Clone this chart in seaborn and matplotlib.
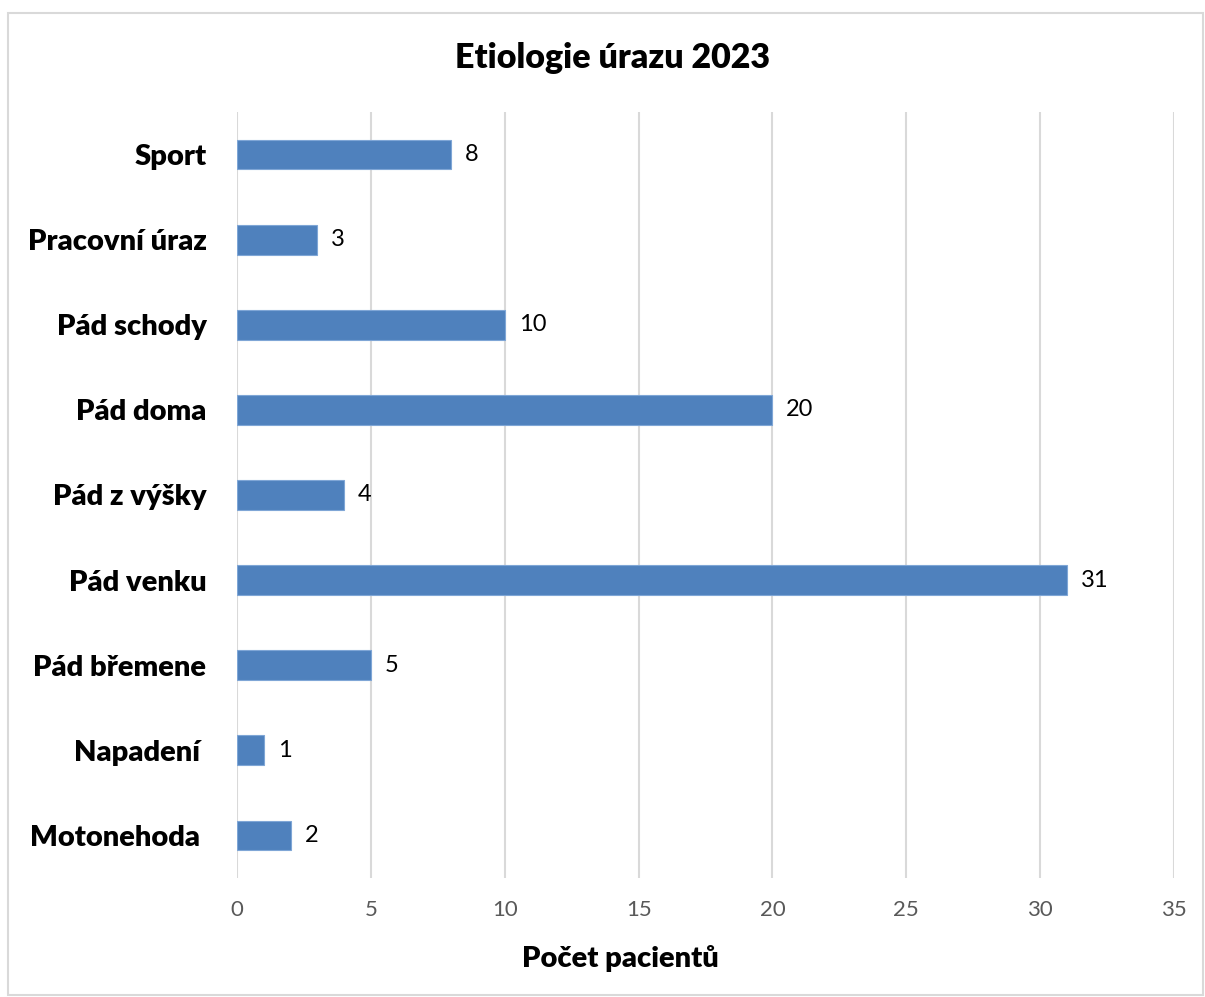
import matplotlib
matplotlib.use("Agg")
import matplotlib.pyplot as plt
import seaborn as sns
import pandas as pd

kategorie = ["Sport", "Pracovní úraz", "Pád schody", "Pád doma", "Pád z výšky",
             "Pád venku", "Pád břemene", "Napadení ", "Motonehoda "]
pocty = [8, 3, 10, 20, 4, 31, 5, 1, 2]
x_ticks = [0, 5, 10, 15, 20, 25, 30, 35]

df = pd.DataFrame({"Etiologie": kategorie, "Pocet": pocty})

sns.set_style("white")
plt.rcParams["font.family"] = ["Lato", "DejaVu Sans"]
plt.rcParams["text.color"] = "black"

fig = plt.figure(figsize=(12.05, 9.97), dpi=100)
ax = fig.add_axes([0.1967, 0.1194, 0.7776, 0.7683])

sns.barplot(data=df, y="Etiologie", x="Pocet", orient="h", color="#4F81BD",
            width=0.35, edgecolor="#7FA6D6", linewidth=0.8, saturation=1, ax=ax)

ax.set_xlim(0, 35)
ax.set_ylim(len(kategorie) - 0.5, -0.5)
ax.set_xticks(x_ticks)
ax.set_xticklabels([str(t) for t in x_ticks], fontsize=16, color="#595959")
ax.tick_params(axis="x", length=0, pad=16)
ax.tick_params(axis="y", length=0, pad=22)
for lab in ax.get_yticklabels():
    lab.set_fontsize(21)
    lab.set_fontweight("heavy")
    lab.set_color("black")

ax.xaxis.grid(True, color="#D9D9D9", linewidth=1.5)
ax.set_axisbelow(True)
for s in ax.spines.values():
    s.set_visible(False)

ax.bar_label(ax.containers[0], padding=10, fontsize=17, color="black")

ax.set_ylabel("")
ax.set_xlabel("Počet pacientů", fontsize=21, fontweight="heavy", color="black")
ax.xaxis.set_label_coords(0.409, -0.088)
fig.text(0.508, 0.942, "Etiologie úrazu 2023", ha="center", va="center",
         fontsize=24.5, fontweight="heavy", color="black")

# ramecek kolem grafu
fig.add_artist(plt.Rectangle((8 / 1205, 2 / 997), 1195 / 1205, 982 / 997,
                             transform=fig.transFigure, fill=False,
                             edgecolor="#D9D9D9", linewidth=1.5))

fig.savefig("out.png", dpi=100, facecolor="white")
